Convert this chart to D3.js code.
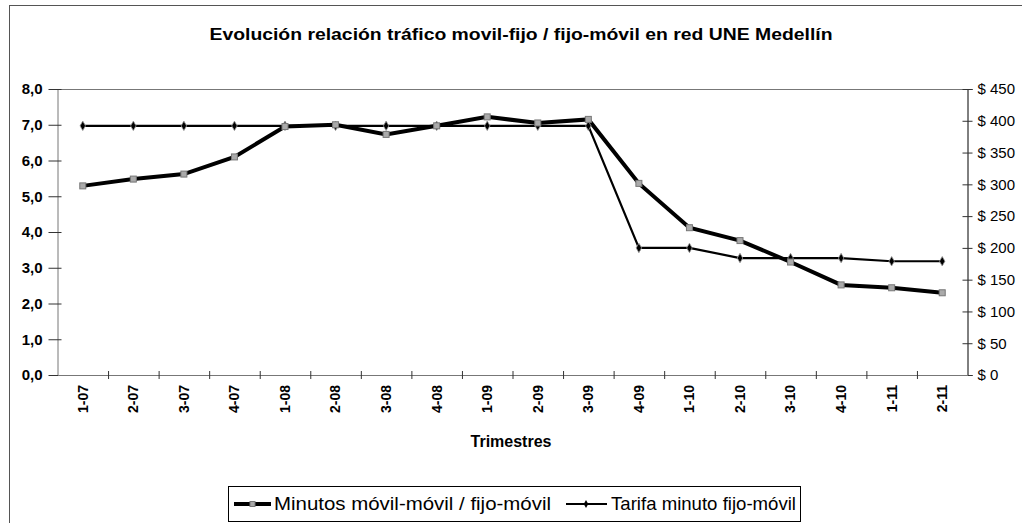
<!DOCTYPE html>
<html>
<head>
<meta charset="utf-8">
<script src="https://cdn.jsdelivr.net/npm/d3@7"></script>
<style>
  body { margin: 0; background: #fff; }
  svg { font-family: "Liberation Sans", Arial, sans-serif; }
</style>
</head>
<body>
<div id="chart"></div>
<script>
// Datos
const trimestres = ["1-07","2-07","3-07","4-07","1-08","2-08","3-08","4-08","1-09","2-09","3-09","4-09","1-10","2-10","3-10","4-10","1-11","2-11"];
const minutos = [5.29, 5.48, 5.62, 6.1, 6.95, 7.0, 6.73, 6.97, 7.22, 7.05, 7.15, 5.36, 4.12, 3.76, 3.16, 2.52, 2.44, 2.3];
const tarifa = [392, 392, 392, 392, 392, 392, 392, 392, 392, 392, 392, 200, 200, 184, 184, 184, 179, 179];
const ticksIzq = [0, 1, 2, 3, 4, 5, 6, 7, 8];
const ticksDer = [0, 50, 100, 150, 200, 250, 300, 350, 400, 450];

const width = 1022;
const height = 523;
const plot = { left: 57.5, right: 967.5, top: 89, bottom: 375 };
const fuente = "Liberation Sans, Arial, sans-serif";

const svg = d3.select("#chart")
    .append("svg")
    .attr("width", width)
    .attr("height", height);

// Marco exterior (recortado a la derecha y abajo)
svg.append("rect")
    .attr("x", 9.5).attr("y", 5.5)
    .attr("width", width + 10).attr("height", height + 10)
    .attr("fill", "#fff")
    .attr("stroke", "#555").attr("stroke-width", 1);

// Título
svg.append("text")
    .attr("x", 521).attr("y", 40)
    .attr("text-anchor", "middle")
    .attr("font-size", 17).attr("font-weight", "bold")
    .attr("textLength", 623).attr("lengthAdjust", "spacingAndGlyphs")
    .text("Evolución relación tráfico movil-fijo / fijo-móvil en red UNE Medellín");

// Escalas
const x = d3.scaleBand().domain(trimestres).range([plot.left, plot.right]);
const yIzq = d3.scaleLinear().domain([0, 8]).range([plot.bottom, plot.top]);
const yDer = d3.scaleLinear().domain([0, 450]).range([plot.bottom, plot.top]);

// Borde superior del área de trazado
svg.append("line")
    .attr("x1", plot.left).attr("x2", plot.right)
    .attr("y1", plot.top + 0.5).attr("y2", plot.top + 0.5)
    .attr("stroke", "#777");

// Eje izquierdo
const ejeIzq = svg.append("g")
    .attr("transform", `translate(${plot.left},0)`)
    .call(d3.axisLeft(yIzq).tickValues(ticksIzq).tickSize(5)
        .tickFormat(d => d3.format(".1f")(d).replace(".", ",")));
ejeIzq.select(".domain").attr("stroke", "#777");
ejeIzq.selectAll(".tick line").attr("x1", -9).attr("x2", 4).attr("stroke", "#333");
ejeIzq.selectAll(".tick text")
    .attr("x", -15)
    .attr("font-size", 15).attr("font-weight", "bold")
    .attr("font-family", fuente)
    .attr("fill", "#000");

// Eje derecho
const ejeDer = svg.append("g")
    .attr("transform", `translate(${plot.right},0)`)
    .call(d3.axisRight(yDer).tickValues(ticksDer).tickSize(5)
        .tickFormat(d => "$ " + d));
ejeDer.select(".domain").attr("stroke", "#000");
ejeDer.selectAll(".tick line").attr("x1", -5).attr("x2", 5).attr("stroke", "#333");
ejeDer.selectAll(".tick text")
    .attr("x", 10)
    .attr("font-size", 15)
    .attr("font-family", fuente)
    .attr("fill", "#000");

// Eje inferior
const ejeX = svg.append("g")
    .attr("transform", `translate(0,${plot.bottom})`)
    .call(d3.axisBottom(x).tickSize(0));
ejeX.select(".domain").attr("stroke", "#777");
ejeX.selectAll(".tick text")
    .attr("transform", "rotate(-90)")
    .attr("x", -10).attr("y", 0).attr("dy", "0.35em")
    .attr("text-anchor", "end")
    .attr("font-size", 14).attr("font-weight", "bold")
    .attr("font-family", fuente)
    .attr("fill", "#000");
// marcas entre categorías
ejeX.selectAll(".sep")
    .data(trimestres.slice(1))
    .enter().append("line")
    .attr("class", "sep")
    .attr("x1", d => x(d) + 0.5).attr("x2", d => x(d) + 0.5)
    .attr("y1", -4).attr("y2", 4)
    .attr("stroke", "#333");

// Título eje X
svg.append("text")
    .attr("x", 511).attr("y", 447)
    .attr("text-anchor", "middle")
    .attr("font-size", 16).attr("font-weight", "bold")
    .text("Trimestres");

const cx = d => x(d) + x.bandwidth() / 2;

// Serie tarifa (eje derecho)
const lineaTarifa = d3.line()
    .x((d, i) => cx(trimestres[i]))
    .y(d => yDer(d));
svg.append("path")
    .datum(tarifa)
    .attr("d", lineaTarifa)
    .attr("fill", "none")
    .attr("stroke", "#000")
    .attr("stroke-width", 2.2);

// Serie minutos (eje izquierdo)
const lineaMinutos = d3.line()
    .x((d, i) => cx(trimestres[i]))
    .y(d => yIzq(d));
svg.append("path")
    .datum(minutos)
    .attr("d", lineaMinutos)
    .attr("fill", "none")
    .attr("stroke", "#000")
    .attr("stroke-width", 4);

// Marcadores
const rombo = d3.symbol().type(d3.symbolDiamond).size(26);
svg.selectAll(".mt")
    .data(tarifa)
    .enter().append("path")
    .attr("class", "mt")
    .attr("d", rombo)
    .attr("transform", (d, i) => `translate(${cx(trimestres[i])},${yDer(d)})`)
    .attr("fill", "#000")
    .attr("stroke", "#999").attr("stroke-width", 0.8);

svg.selectAll(".mm")
    .data(minutos)
    .enter().append("rect")
    .attr("class", "mm")
    .attr("x", (d, i) => cx(trimestres[i]) - 3)
    .attr("y", d => yIzq(d) - 3)
    .attr("width", 6).attr("height", 6)
    .attr("fill", "#aaa")
    .attr("stroke", "#777").attr("stroke-width", 1);

// Leyenda
const leyenda = svg.append("g");
leyenda.append("rect")
    .attr("x", 228.5).attr("y", 486.5)
    .attr("width", 572).attr("height", 35)
    .attr("fill", "#fff").attr("stroke", "#000");

leyenda.append("line")
    .attr("x1", 234).attr("x2", 271).attr("y1", 504).attr("y2", 504)
    .attr("stroke", "#000").attr("stroke-width", 4);
leyenda.append("rect")
    .attr("x", 250).attr("y", 501.5).attr("width", 5).attr("height", 5)
    .attr("fill", "#aaa").attr("stroke", "#777");
leyenda.append("text")
    .attr("x", 274).attr("y", 510)
    .attr("font-size", 19)
    .attr("textLength", 277).attr("lengthAdjust", "spacingAndGlyphs")
    .text("Minutos móvil-móvil / fijo-móvil");

leyenda.append("line")
    .attr("x1", 566).attr("x2", 607).attr("y1", 504).attr("y2", 504)
    .attr("stroke", "#000").attr("stroke-width", 2.2);
leyenda.append("path")
    .attr("d", d3.symbol().type(d3.symbolDiamond).size(18))
    .attr("transform", "translate(586,504)")
    .attr("fill", "#000");
leyenda.append("text")
    .attr("x", 611).attr("y", 510)
    .attr("font-size", 19)
    .attr("textLength", 185).attr("lengthAdjust", "spacingAndGlyphs")
    .text("Tarifa minuto fijo-móvil");
</script>
</body>
</html>
